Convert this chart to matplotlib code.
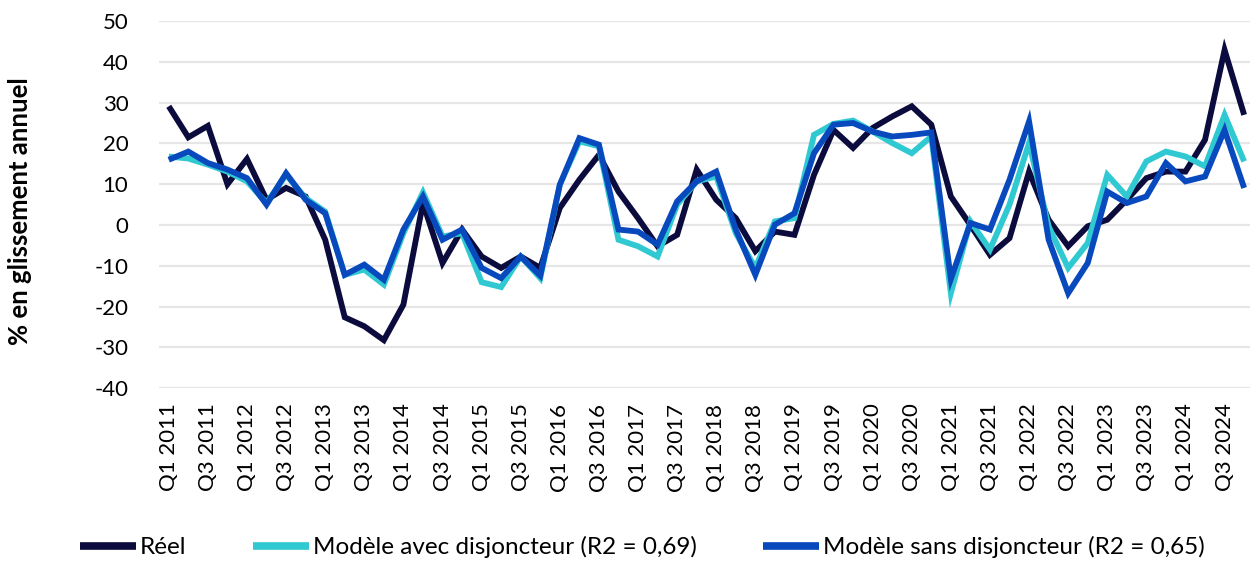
import matplotlib
matplotlib.use("Agg")
import matplotlib.pyplot as plt
import numpy as np

years = list(range(2011, 2025))
quarters = [f"Q{q} {y}" for y in years for q in (1, 2, 3, 4)]

reel = [29.1, 21.5, 24.3, 10.0, 16.2, 6.2, 9.1, 7.0, -3.6, -22.6, -24.8, -28.2, -19.5, 5.4,
        -9.3, -1.1, -7.7, -10.5, -7.7, -10.5, 4.2, 11.1, 17.2, 8.2, 1.7, -5.2, -2.4, 13.6,
        6.2, 1.7, -6.4, -1.6, -2.4, 12.3, 23.3, 18.9, 23.8, 26.6, 29.1, 24.6, 7.0, 0.0,
        -7.3, -3.2, 13.1, 1.3, -5.2, -0.3, 1.3, 6.2, 11.5, 13.1, 13.1, 20.9, 42.9, 27.0]

avec = [16.8, 16.3, 14.8, 13.1, 10.7, 5.4, 12.3, 6.6, 3.3, -12.2, -10.9, -14.6, -2.0, 8.0,
        -2.8, -2.0, -14.0, -15.2, -7.7, -13.0, 9.9, 20.5, 19.3, -3.6, -5.2, -7.7, 5.0, 10.7,
        11.9, -2.0, -10.5, 0.9, 1.7, 22.1, 24.8, 25.6, 22.9, 20.1, 17.6, 21.7, -16.7, 0.9,
        -6.0, 5.0, 20.1, -0.3, -10.5, -4.4, 12.3, 7.0, 15.6, 18.0, 16.8, 14.4, 27.0, 15.6]

sans = [16.0, 18.0, 15.2, 13.6, 11.5, 5.0, 12.7, 6.2, 2.9, -12.2, -9.7, -13.4, -1.1, 7.0,
        -3.6, -1.1, -10.5, -13.0, -7.7, -12.4, 9.9, 21.3, 19.7, -1.1, -1.6, -4.8, 5.8, 10.7,
        13.1, -1.1, -12.2, 0.1, 2.9, 17.6, 24.6, 25.0, 22.9, 21.7, 22.1, 22.7, -13.2, 0.5,
        -1.1, 11.1, 25.4, -3.6, -16.7, -9.3, 8.2, 5.4, 7.0, 15.2, 10.7, 11.9, 23.3, 9.1]

labels = ["Réel", "Modèle avec disjoncteur (R2 = 0,69)", "Modèle sans disjoncteur (R2 = 0,65)"]
colors = ["#0b0b3d", "#30c9d2", "#0849bd"]

plt.rcParams['font.family'] = ['Lato', 'DejaVu Sans']
plt.rcParams['axes.unicode_minus'] = False

fig = plt.figure(figsize=(12.5, 5.61), dpi=100)
ax = fig.add_axes([159/1250, 1 - 388.3/561, (1250 - 159)/1250, (388.3 - 21)/561])

x = np.arange(len(quarters))
for series, lab, c in zip([reel, avec, sans], labels, colors):
    ax.plot(x, series, color=c, lw=4.2, label=lab, solid_joinstyle='miter', solid_capstyle='butt')

ax.set_xlim(-0.5, 55.3)
ax.set_ylim(-40, 50)
ax.set_yticks(np.arange(-40, 51, 10))
ax.yaxis.grid(True, color="#e6e6e6", lw=1.6)
ax.set_axisbelow(True)
for s in ax.spines.values():
    s.set_visible(False)
ax.set_xticks(x[::2])
ax.set_xticklabels(quarters[::2], rotation=90, fontsize=16)
ax.tick_params(axis='both', length=0, labelsize=16)
ax.tick_params(axis='y', pad=22)
ax.tick_params(axis='x', pad=11)
fig.text(20/1250, 1 - 211/561, "% en glissement annuel", rotation=90, ha='center', va='center',
         fontsize=18.5, fontweight='bold')

leg = fig.legend(loc='center', bbox_to_anchor=(0.514, 0.025), ncol=3, frameon=False,
                 fontsize=17.5, handlelength=2.3, handletextpad=0.15, columnspacing=2.75)
for h in leg.get_lines():
    h.set_linewidth(5.5)

fig.savefig("out.png", dpi=100)
